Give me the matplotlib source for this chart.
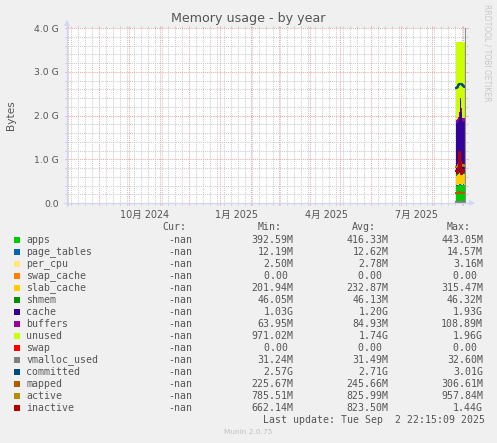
import matplotlib
matplotlib.use("Agg")
import matplotlib.pyplot as plt
import matplotlib.dates as mdates
import matplotlib.transforms as mtransforms
from matplotlib.lines import Line2D
from matplotlib.patches import Rectangle, Polygon
from matplotlib.ticker import FixedLocator
import numpy as np
from datetime import datetime, timedelta

# ---------------- data (values in G, base 1024) ----------------
day_dates = ["2025-08-25", "2025-08-26", "2025-08-27", "2025-08-28", "2025-08-29",
             "2025-08-30", "2025-08-31", "2025-09-01", "2025-09-02"]
apps         = [0.39, 0.40, 0.41, 0.42, 0.41, 0.40, 0.41, 0.42, 0.41]
page_tables  = [0.012, 0.012, 0.012, 0.012, 0.013, 0.012, 0.012, 0.012, 0.012]
per_cpu      = [0.003, 0.003, 0.003, 0.003, 0.003, 0.003, 0.003, 0.003, 0.003]
swap_cache   = [0.0, 0.0, 0.0, 0.0, 0.0, 0.0, 0.0, 0.0, 0.0]
slab_cache   = [0.22, 0.22, 0.23, 0.24, 0.23, 0.23, 0.22, 0.23, 0.23]
shmem        = [0.045, 0.045, 0.045, 0.045, 0.045, 0.045, 0.045, 0.045, 0.045]
cache        = [1.15, 1.16, 1.18, 1.25, 1.62, 1.40, 1.18, 1.15, 1.17]
buffers      = [0.07, 0.08, 0.09, 0.10, 0.09, 0.08, 0.08, 0.08, 0.08]
unused       = [1.80, 1.77, 1.72, 1.62, 1.28, 1.52, 1.74, 1.75, 1.74]
swap         = [0.0, 0.0, 0.0, 0.0, 0.0, 0.0, 0.0, 0.0, 0.0]
vmalloc_used = [0.031, 0.031, 0.031, 0.031, 0.031, 0.031, 0.031, 0.031, 0.031]
committed    = [2.62, 2.66, 2.70, 2.72, 2.72, 2.71, 2.70, 2.68, 2.66]
mapped       = [0.23, 0.23, 0.24, 0.25, 0.24, 0.24, 0.23, 0.24, 0.24]
active       = [0.82, 0.83, 0.86, 0.90, 0.88, 0.84, 0.86, 0.88, 0.85]
inactive     = [0.74, 0.68, 0.80, 1.16, 0.95, 0.66, 0.72, 0.75, 0.76]

area_names = ["apps", "page_tables", "per_cpu", "swap_cache", "slab_cache",
              "shmem", "cache", "buffers", "unused"]
area_values = [apps, page_tables, per_cpu, swap_cache, slab_cache,
               shmem, cache, buffers, unused]
line_names = ["swap", "vmalloc_used", "committed", "mapped", "active", "inactive"]
line_values = [swap, vmalloc_used, committed, mapped, active, inactive]

series_colors = {
    "apps": "#00cc00", "page_tables": "#0066b3", "per_cpu": "#ffe680",
    "swap_cache": "#ff8000", "slab_cache": "#ffcc00", "shmem": "#008f00",
    "cache": "#330099", "buffers": "#990099", "unused": "#ccff00",
    "swap": "#ff0000", "vmalloc_used": "#808080", "committed": "#00487d",
    "mapped": "#b35a00", "active": "#b38f00", "inactive": "#b30000",
}

legend_names = area_names + line_names
legend_cur = ["-nan"] * 15
legend_min = ["392.59M", "12.19M", "2.50M", "0.00 ", "201.94M", "46.05M", "1.03G",
              "63.95M", "971.02M", "0.00 ", "31.24M", "2.57G", "225.67M", "785.51M", "662.14M"]
legend_avg = ["416.33M", "12.62M", "2.78M", "0.00 ", "232.87M", "46.13M", "1.20G",
              "84.93M", "1.74G", "0.00 ", "31.49M", "2.71G", "245.66M", "825.99M", "823.50M"]
legend_max = ["443.05M", "14.57M", "3.16M", "0.00 ", "315.47M", "46.32M", "1.93G",
              "108.89M", "1.96G", "0.00 ", "32.60M", "3.01G", "306.61M", "957.84M", "1.44G"]

y_ticks = [0, 1, 2, 3, 4]
y_tick_labels = ["0.0", "1.0 G", "2.0 G", "3.0 G", "4.0 G"]
x_label_months = ["2024-10-01", "2025-01-01", "2025-04-01", "2025-07-01"]
x_label_texts = ["10月 2024", "1月 2025", "4月 2025", "7月 2025"]

title = "Memory usage - by year"
last_update = "Last update: Tue Sep  2 22:15:09 2025"

# ---------------- layout ----------------
W, H, DPI = 497, 443, 100
FONT_C = "#555555"
MGRID = "#ebaaaa"
GRID = "#cccccc"
AXIS_C = "#cfd6f8"

def fx(x):
    return x / W

def fy(y):
    return 1 - y / H

fig = plt.figure(figsize=(W / DPI, H / DPI), dpi=DPI, facecolor="#f0f0f0")
L, R, T, B = 67, 466, 28, 203
ax = fig.add_axes([fx(L), fy(B), (R - L) / W, (B - T) / H], facecolor="white")

x_start = datetime(2024, 7, 31, 6)
x_end = x_start + timedelta(days=400)
ax.set_xlim(x_start, x_end)
ax.set_ylim(0, 4)

# data
d = [datetime.strptime(s, "%Y-%m-%d") for s in day_dates]
x_edges = d + [d[-1] + timedelta(days=1)]

def ext(v):
    return np.array(list(v) + [v[-1]])

base = np.zeros(len(x_edges))
for name, vals in zip(area_names, area_values):
    top = base + ext(vals)
    ax.fill_between(x_edges, base, top, step="post", color=series_colors[name],
                    linewidth=0, zorder=2)
    base = top

for name, vals in zip(line_names, line_values):
    ax.step(x_edges, ext(vals), where="post", color=series_colors[name],
            linewidth=1.5, zorder=3)

# rule at data end
ax.axvline(x_edges[-1], color="#8c8c8c", linewidth=0.9, zorder=4)

# grid / ticks
ax.set_axisbelow(True)
ax.yaxis.set_major_locator(FixedLocator(y_ticks))
ax.yaxis.set_minor_locator(FixedLocator([v / 5 for v in range(0, 21) if v % 5]))
ax.xaxis.set_major_locator(mdates.MonthLocator())
ax.xaxis.set_minor_locator(mdates.WeekdayLocator(byweekday=mdates.SU))
ax.grid(which="major", color=MGRID, linestyle=(0, (1, 1)), linewidth=0.75)
ax.grid(which="minor", color=GRID, linestyle=(0, (1, 1)), linewidth=0.75)
ax.tick_params(which="major", direction="out", length=1.6, width=0.75, color=MGRID,
               top=True, right=True, labelbottom=False)
ax.tick_params(which="minor", direction="out", length=1.6, width=0.75, color=GRID,
               top=True, right=True)
ax.set_yticklabels(y_tick_labels)
ax.tick_params(axis="y", which="major", labelsize=6.7, labelcolor=FONT_C, pad=4.3)
for sp in ax.spines.values():
    sp.set_visible(False)

# x labels (centred mid-month as rrdtool does)
trans = mtransforms.blended_transform_factory(ax.transData, fig.transFigure)
for m, lab in zip(x_label_months, x_label_texts):
    dt = datetime.strptime(m, "%Y-%m-%d") + timedelta(days=16)
    ax.text(dt, fy(214.5), lab, transform=trans, ha="center", va="center",
            fontsize=6.9, color=FONT_C, family=["DejaVu Sans", "Noto Sans CJK SC"],
            clip_on=False)

# axis lines and arrows
fig.add_artist(Line2D([fx(L), fx(L)], [fy(206), fy(22)], color=AXIS_C, linewidth=0.9))
fig.add_artist(Line2D([fx(64), fx(470)], [fy(B), fy(B)], color=AXIS_C, linewidth=0.9))
fig.add_artist(Polygon([[fx(L - 3), fy(26)], [fx(L + 3), fy(26)], [fx(L), fy(20)]],
                       closed=True, color=AXIS_C, linewidth=0))
fig.add_artist(Polygon([[fx(469), fy(B - 3)], [fx(469), fy(B + 3)], [fx(475), fy(B)]],
                       closed=True, color=AXIS_C, linewidth=0))

# titles
fig.text(fx(248), fy(18.5), title, ha="center", va="center", fontsize=9.1, color=FONT_C)
fig.text(fx(11), fy(115), "Bytes", ha="center", va="center", rotation=90,
         fontsize=7.6, color=FONT_C)
fig.text(fx(487.5), fy(53), "RRDTOOL / TOBI OETIKER", ha="center", va="center",
         rotation=270, fontsize=5.5, color="#c8c8c8")

# legend
MONO = "DejaVu Sans Mono"
LFS = 7.1
CW = 5.94
row0, dy = 240.0, 11.98
hy = 227.3
for x0, h in [(162.7, "Cur:"), (257.7, "Min:"), (352.0, "Avg:"), (446.7, "Max:")]:
    fig.text(fx(x0), fy(hy), h, ha="left", va="center", fontsize=LFS,
             family=MONO, color=FONT_C)

col_right = [192.3, 293.3, 388.0, 482.7]
for i, name in enumerate(legend_names):
    y = row0 + i * dy
    fig.add_artist(Rectangle((fx(14), fy(y + 3)), 6 / W, 6 / H,
                             facecolor=series_colors[name], edgecolor="none"))
    fig.text(fx(26.3), fy(y), name, ha="left", va="center", fontsize=LFS,
             family=MONO, color=FONT_C)
    for xr, col in zip(col_right, [legend_cur, legend_min, legend_avg, legend_max]):
        s = col[i]
        fig.text(fx(xr - len(s) * CW), fy(y), s, ha="left", va="center",
                 fontsize=LFS, family=MONO, color=FONT_C)

fig.text(fx(482.7 - len(last_update) * CW), fy(420), last_update, ha="left",
         va="center", fontsize=LFS, family=MONO, color=FONT_C)
fig.text(fx(248), fy(432.5), "Munin 2.0.75", ha="center", va="center",
         fontsize=5.3, color="#c0c0c0")

fig.savefig("out.png", dpi=DPI, facecolor=fig.get_facecolor())
